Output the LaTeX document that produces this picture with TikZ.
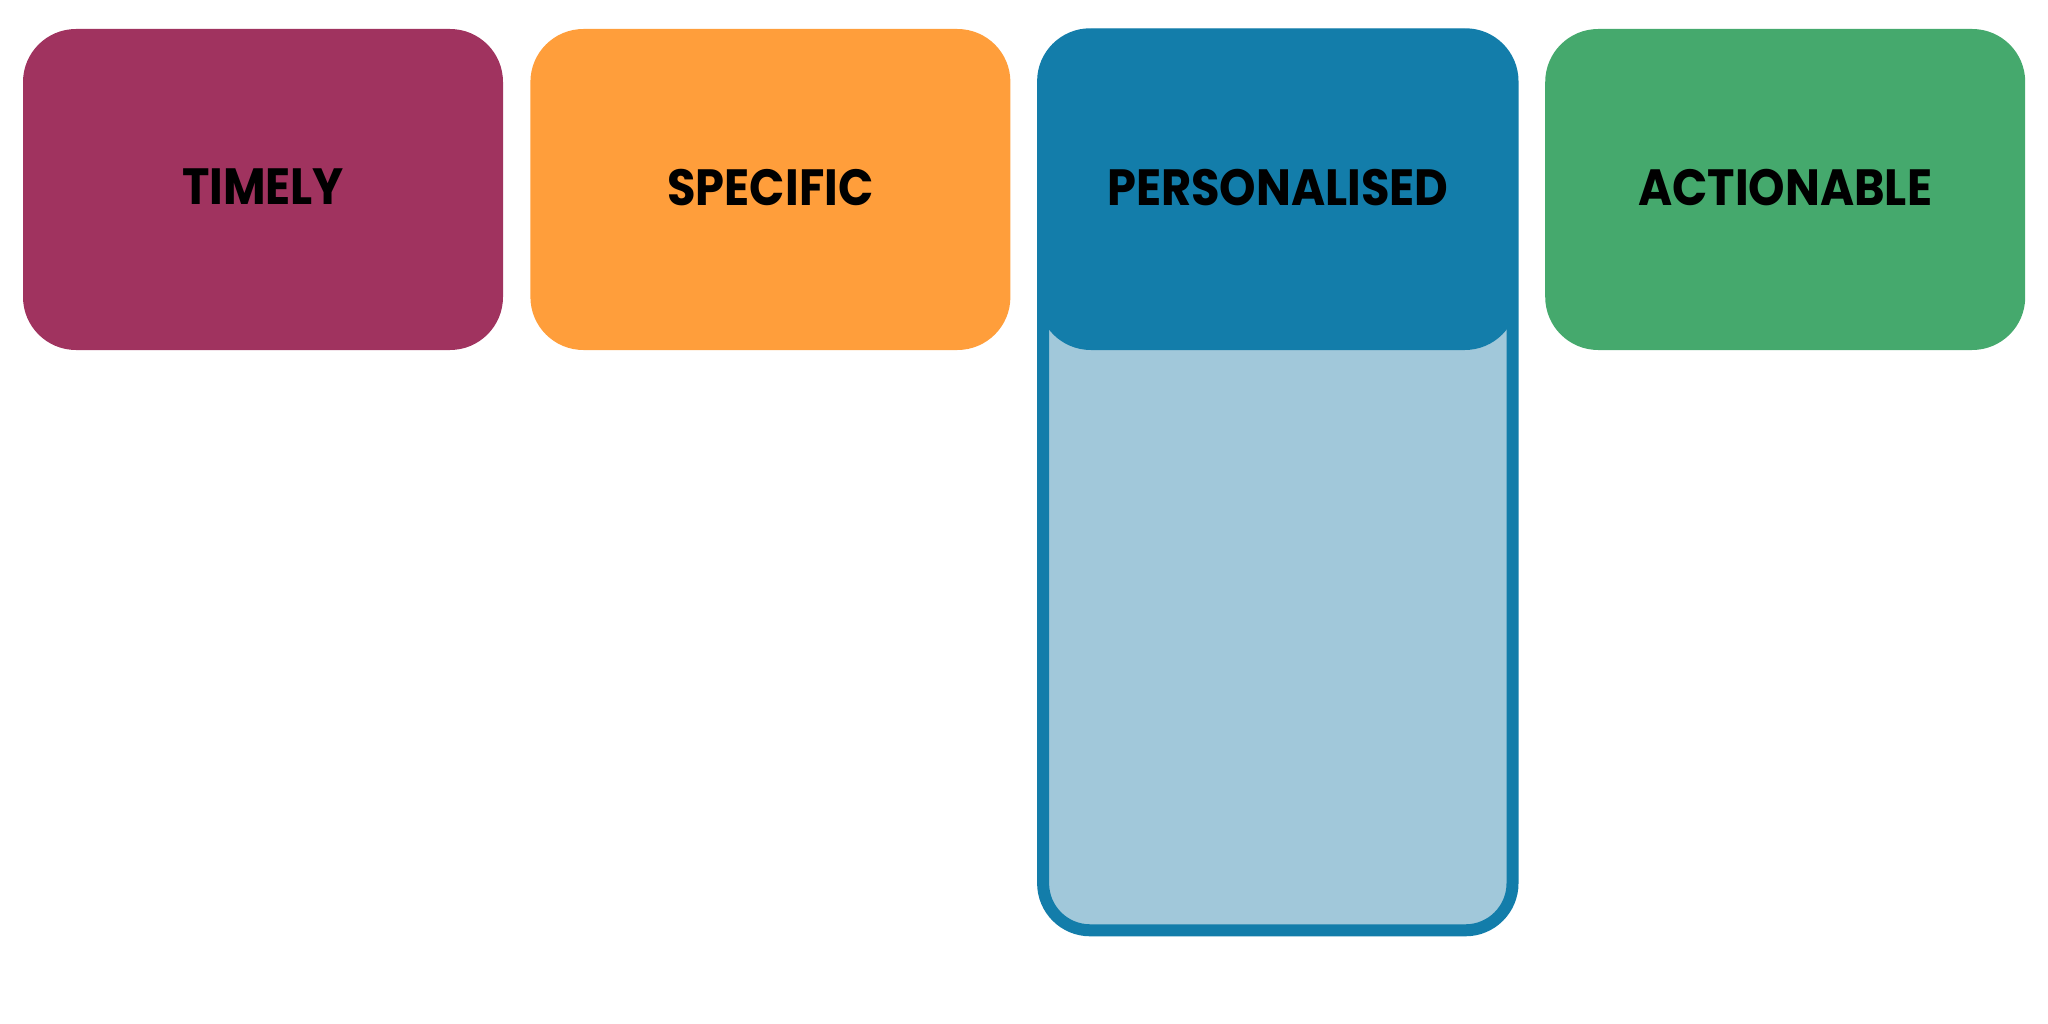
\documentclass[tikz,border=0pt]{standalone}
\usepackage{fontspec}
\setmainfont{Poppins}[FakeStretch=0.91]
\usetikzlibrary{positioning}
\usetikzlibrary{backgrounds}
\definecolor{timelyred}{HTML}{A0335F}
\definecolor{specificorange}{HTML}{FF9E3B}
\definecolor{personalblue}{HTML}{137DAA}
\definecolor{personallight}{HTML}{A1C8DA}
\definecolor{actiongreen}{HTML}{45A96D}
\tikzset{%
  card/.style = {rectangle,rounded corners=5.3mm,draw=none,
        minimum width=48mm,minimum height=32.1mm,
        font=\fontsize{14.5}{16}\selectfont\bfseries},
  frame/.style = {rounded corners=4.7mm,draw=personalblue,
        fill=personallight,line width=1.2mm}
}
\begin{document}
\begin{tikzpicture}[x=0.1mm,y=-0.1mm,node distance=2.6mm]
   \useasboundingbox (0,0) rectangle (2048,1024);
   \node[card,fill=timelyred] (timely) at (263,189.5) {\raisebox{0.5mm}{TIMELY}};
   \node[card,fill=specificorange] (specific) [right=of timely] {\raisebox{0.5mm}{SPECIFIC}};
   \node[card,fill=personalblue] (personalised) [right=of specific] {\raisebox{0.5mm}{PERSONALISED}};
   \node[card,fill=actiongreen] (actionable) [right=of personalised] {\raisebox{0.5mm}{ACTIONABLE}};

   \begin{scope}[on background layer]
     \draw[frame] ([xshift=0.6mm,yshift=-0.6mm]personalised.north west)
        rectangle ([xshift=-0.6mm,yshift=-90.2mm]personalised.north east);
   \end{scope}
\end{tikzpicture}
\end{document}
